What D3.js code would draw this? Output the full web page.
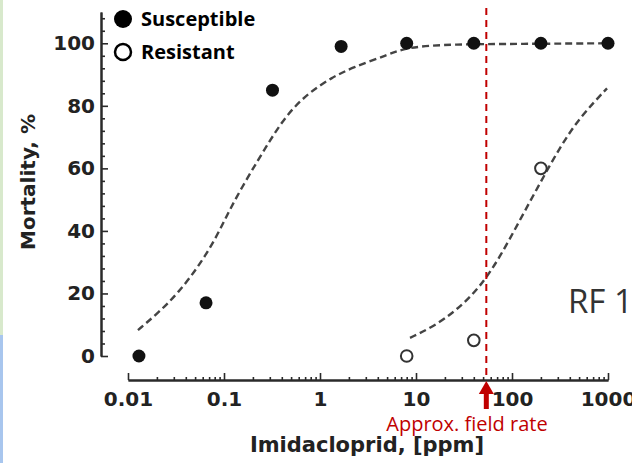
<!DOCTYPE html>
<html>
<head>
<meta charset="utf-8">
<script src="https://cdn.jsdelivr.net/npm/d3@7"></script>
<style>
  body { margin: 0; background: #fff; }
  svg { display: block; }
</style>
</head>
<body>
<svg id="chart" width="632" height="463"></svg>
<script>
// measured points
const susceptibleDose = [0.013, 0.065, 0.32, 1.66, 8, 40, 200, 1000];
const susceptibleMort = [0, 17, 85, 99, 100, 100, 100, 100];
const resistantDose = [8, 40, 200];
const resistantMort = [0, 5, 60];

// fitted curves
const susFitDose = [0.0127, 0.0205, 0.0332, 0.0536, 0.0805, 0.110, 0.154, 0.226, 0.316, 0.464, 0.75, 1.33, 2.21, 4.99, 8.06, 24.3, 121, 1000];
const susFitMort = [8.3, 13.7, 20.1, 28.4, 37.1, 45.7, 54.0, 62.6, 70.0, 77.6, 84.0, 89.1, 92.3, 96.2, 98.8, 99.7, 99.8, 100];
const resFitDose = [8.66, 15.0, 26.7, 46.4, 75, 121, 196, 316, 511, 977];
const resFitMort = [5.8, 9.3, 14.7, 22.0, 31.6, 43.5, 55.3, 66.8, 76.4, 85.6];

const xMajor = [0.01, 0.1, 1, 10, 100, 1000];
const yMajor = [0, 20, 40, 60, 80, 100];
const fieldRate = 54;

const svg = d3.select("#chart");

const x = d3.scaleLog().domain([0.01, 1000]).range([128, 608]);
const y = d3.scaleLinear().domain([0, 110]).range([356, 12]);

// thin coloured strip at the left edge of the slide
svg.append("rect").attr("x", 0).attr("y", 0).attr("width", 3).attr("height", 463).attr("fill", "#d8e9cc");
svg.append("rect").attr("x", 0).attr("y", 335).attr("width", 3).attr("height", 128).attr("fill", "#a8c6ee");

const axisColor = "#2a2a2a";
const tickFont = "'DejaVu Sans', sans-serif";

// x axis
let xMinor = [];
xMajor.slice(0, -1).forEach(d => {
    for (let k = 2; k <= 9; k++) xMinor.push(d * k);
});

const xAxisG = svg.append("g").attr("transform", "translate(0,380)");
xAxisG.call(d3.axisBottom(x).tickValues(xMinor).tickSizeInner(-3).tickSizeOuter(0).tickFormat(""));
xAxisG.append("g").call(d3.axisBottom(x).tickValues(xMajor).tickSizeInner(-7).tickSizeOuter(0)
    .tickPadding(12).tickFormat(d => d3.format("~g")(d)));

// y axis
let yMinor = d3.range(0, 110, 4).filter(d => d % 20 !== 0);
const yAxisG = svg.append("g").attr("transform", "translate(101,0)");
yAxisG.call(d3.axisLeft(y).tickValues(yMinor).tickSizeInner(-4).tickSizeOuter(0).tickFormat(""));
yAxisG.append("g").call(d3.axisLeft(y).tickValues(yMajor).tickSizeInner(-7).tickSizeOuter(0).tickPadding(6));

svg.selectAll(".domain").attr("stroke", axisColor).attr("stroke-width", 2);
svg.selectAll(".tick line").attr("stroke", axisColor).attr("stroke-width", 1.6);
svg.selectAll(".tick text")
    .attr("fill", "#222")
    .style("font-family", tickFont)
    .style("font-weight", "bold")
    .style("font-size", "20px");

// axis titles
svg.append("text")
    .attr("x", 367)
    .attr("y", 452)
    .attr("text-anchor", "middle")
    .attr("fill", "#222")
    .style("font-family", tickFont)
    .style("font-weight", "bold")
    .style("font-size", "21px")
    .text("Imidacloprid, [ppm]");

svg.append("text")
    .attr("transform", "translate(28,182) rotate(-90)")
    .attr("text-anchor", "middle")
    .attr("dy", "0.36em")
    .attr("fill", "#222")
    .style("font-family", tickFont)
    .style("font-weight", "bold")
    .style("font-size", "20px")
    .text("Mortality, %");

// fitted curves
const line = d3.line()
    .x(d => x(d[0]))
    .y(d => y(d[1]))
    .curve(d3.curveBasis);

svg.append("path")
    .datum(d3.zip(susFitDose, susFitMort))
    .attr("d", line)
    .attr("fill", "none")
    .attr("stroke", "#444")
    .attr("stroke-width", 2.4)
    .attr("stroke-dasharray", "7,4");

svg.append("path")
    .datum(d3.zip(resFitDose, resFitMort))
    .attr("d", line)
    .attr("fill", "none")
    .attr("stroke", "#444")
    .attr("stroke-width", 2.4)
    .attr("stroke-dasharray", "7,4");

// field rate marker
const red = "#c00000";
svg.append("line")
    .attr("x1", x(fieldRate)).attr("x2", x(fieldRate))
    .attr("y1", 8).attr("y2", 380)
    .attr("stroke", red)
    .attr("stroke-width", 2)
    .attr("stroke-dasharray", "7,5");

const fx = x(fieldRate);
svg.append("rect")
    .attr("x", fx - 2.5).attr("y", 392)
    .attr("width", 5).attr("height", 17)
    .attr("fill", red);
svg.append("path")
    .attr("d", `M${fx},381 L${fx + 7.5},394 L${fx - 7.5},394 Z`)
    .attr("fill", red);

svg.append("text")
    .attr("x", 467)
    .attr("y", 431)
    .attr("text-anchor", "middle")
    .attr("fill", red)
    .style("font-family", "'Open Sans', sans-serif")
    .style("font-size", "20px")
    .text("Approx. field rate");

// points
svg.selectAll(".sus")
    .data(d3.zip(susceptibleDose, susceptibleMort))
    .enter().append("circle")
    .attr("class", "sus")
    .attr("cx", d => x(d[0]))
    .attr("cy", d => y(d[1]))
    .attr("r", 6.5)
    .attr("fill", "#111");

svg.selectAll(".res")
    .data(d3.zip(resistantDose, resistantMort))
    .enter().append("circle")
    .attr("class", "res")
    .attr("cx", d => x(d[0]))
    .attr("cy", d => y(d[1]))
    .attr("r", 5.8)
    .attr("fill", "#fff")
    .attr("stroke", "#333")
    .attr("stroke-width", 2);

// legend
const legend = [
    { label: "Susceptible", filled: true, cy: 19, ty: 26 },
    { label: "Resistant", filled: false, cy: 52, ty: 59 }
];
legend.forEach(item => {
    svg.append("circle")
        .attr("cx", 123)
        .attr("cy", item.cy)
        .attr("r", item.filled ? 9 : 8)
        .attr("fill", item.filled ? "#000" : "#fff")
        .attr("stroke", "#000")
        .attr("stroke-width", item.filled ? 0 : 2.5);
    svg.append("text")
        .attr("x", 141)
        .attr("y", item.ty)
        .attr("fill", "#000")
        .style("font-family", "'Open Sans', sans-serif")
        .style("font-weight", "bold")
        .style("font-size", "20px")
        .text(item.label);
});

svg.append("text")
    .attr("x", 568)
    .attr("y", 313)
    .attr("fill", "#333")
    .style("font-family", "'Open Sans', sans-serif")
    .style("font-size", "33px")
    .text("RF 1");
</script>
</body>
</html>
